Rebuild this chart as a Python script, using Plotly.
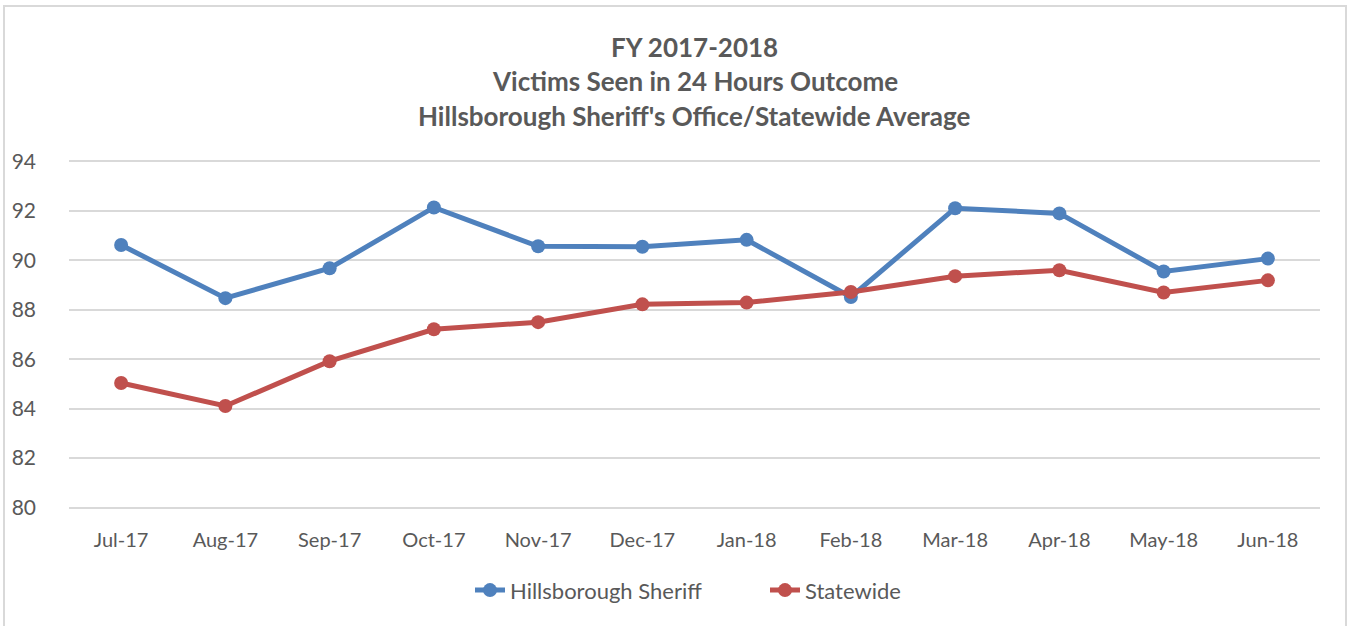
import plotly.graph_objects as go

# Chart data
MONTHS = ['Jul-17', 'Aug-17', 'Sep-17', 'Oct-17', 'Nov-17', 'Dec-17',
          'Jan-18', 'Feb-18', 'Mar-18', 'Apr-18', 'May-18', 'Jun-18']
HILLSBOROUGH = [90.62, 88.47, 89.68, 92.14, 90.57, 90.55,
                90.83, 88.52, 92.11, 91.9, 89.55, 90.07]
STATEWIDE = [85.04, 84.11, 85.92, 87.21, 87.5, 88.22,
             88.29, 88.72, 89.36, 89.6, 88.7, 89.19]
TITLE_LINES = ['FY 2017-2018',
               'Victims Seen in 24 Hours Outcome',
               "Hillsborough Sheriff's Office/Statewide Average"]
Y_TICKS = [80, 82, 84, 86, 88, 90, 92, 94]

W, H = 1350, 626
PAD = 0.1  # extra y range so the edge gridlines get drawn
PX_PER_UNIT = 24.79
M_L, M_R = 69, 30
M_T = 161 - PAD * PX_PER_UNIT
M_B = 626 - 508 - PAD * PX_PER_UNIT
PLOT_H = H - M_T - M_B
PLOT_W = W - M_L - M_R
FONT = 'Lato'
GREY = '#595959'

fig = go.Figure()
fig.add_trace(go.Scatter(x=MONTHS, y=HILLSBOROUGH, mode='lines+markers',
                         name='Hillsborough Sheriff',
                         line=dict(color='#4F81BD', width=5),
                         marker=dict(size=14, color='#4F81BD')))
fig.add_trace(go.Scatter(x=MONTHS, y=STATEWIDE, mode='lines+markers',
                         name='Statewide',
                         line=dict(color='#C0504D', width=5),
                         marker=dict(size=14, color='#C0504D')))


def py(pix):
    # pixel row -> paper y
    return (H - M_B - pix) / PLOT_H


def px(pix):
    return (pix - M_L) / PLOT_W


for text, row in zip(TITLE_LINES, [46, 80, 115]):
    fig.add_annotation(text='<b>' + text + '</b>', x=0.5, y=py(row),
                       xref='paper', yref='paper', showarrow=False,
                       xanchor='center', yanchor='middle',
                       font=dict(family=FONT, size=26, color=GREY))

# light border around the chart area
fig.add_shape(type='rect', xref='paper', yref='paper',
              x0=px(4), x1=px(1346), y0=py(640), y1=py(5),
              line=dict(color='#D9D9D9', width=2), layer='below')

fig.update_xaxes(range=[-0.5, len(MONTHS) - 0.5],
                 showgrid=False, zeroline=False, showline=False,
                 automargin=False,
                 tickfont=dict(family=FONT, size=20, color=GREY),
                 ticks='', ticklabelstandoff=16)
fig.update_yaxes(range=[Y_TICKS[0] - PAD, Y_TICKS[-1] + PAD],
                 tickvals=Y_TICKS,
                 showgrid=True, gridcolor='#D9D9D9', gridwidth=2,
                 zeroline=False, showline=False, ticks='', automargin=False,
                 tickfont=dict(family=FONT, size=21, color=GREY),
                 ticklabelstandoff=32)

fig.update_layout(
    width=W, height=H,
    margin=dict(l=M_L, r=M_R, t=M_T, b=M_B),
    paper_bgcolor='white', plot_bgcolor='white',
    showlegend=True,
    legend=dict(orientation='h', x=px(470), xanchor='left',
                y=py(591), yanchor='middle',
                font=dict(family=FONT, size=22, color=GREY),
                entrywidth=250, entrywidthmode='pixels'),
)

fig.write_html("out.html",
               config={'displayModeBar': False},
               post_script="document.body.style.margin='0';")
